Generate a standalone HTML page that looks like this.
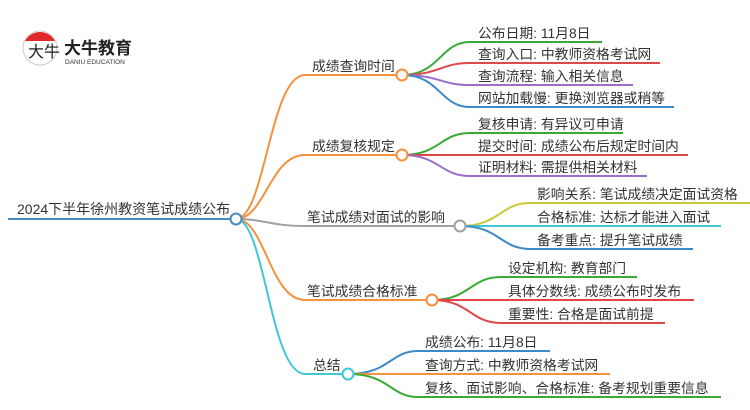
<!DOCTYPE html>
<html><head><meta charset="utf-8"><style>
body{margin:0;background:#fff;}
svg{display:block;}
text{font-family:"Liberation Sans","Noto Sans CJK SC",sans-serif;fill:#333;font-size:13.8px;}
</style></head><body>
<svg width="750" height="410" viewBox="0 0 750 410" xmlns="http://www.w3.org/2000/svg">
<!-- logo -->
<circle cx="40" cy="48" r="17" fill="#fff" stroke="#ccc" stroke-width="1"/>
<path d="M25,41 A17,17 0 0 1 55,41 Z" fill="#e02828"/>
<text x="28" y="57" style="font-size:16px;fill:#222">大牛</text>
<text x="64" y="54" style="font-size:17px;font-weight:bold;fill:#222">大牛教育</text>
<text x="65" y="64" style="font-size:6.5px;fill:#333">DANIU EDUCATION</text>

<g fill="none" stroke-width="2">
<line x1="8" y1="219" x2="231" y2="219" stroke="#4a8ac4"/>
<path d="M236,219 C265,219 270,75 305,75 L397,75" stroke="#f5923e"/>
<path d="M236,219 C265,219 270,155 305,155 L397,155" stroke="#f5923e"/>
<path d="M236,219 C265,219 270,226 305,226 L455,226" stroke="#a0a0a0"/>
<path d="M236,219 C265,219 270,300 305,300 L427,300" stroke="#f5923e"/>
<path d="M236,219 C265,219 270,374 305,374 L343,374" stroke="#3ec8d8"/>
<path d="M402,75 C440,75 440,42 470,42 L602,42" stroke="#3aaa35"/>
<path d="M402,75 C440,75 440,63 470,63 L660,63" stroke="#e04848"/>
<path d="M402,75 C440,75 440,85 470,85 L633,85" stroke="#9b6fc9"/>
<path d="M402,75 C440,75 440,107 470,107 L674,107" stroke="#3d8ac8"/>
<path d="M402,155 C440,155 440,133 470,133 L623,133" stroke="#3aaa35"/>
<path d="M402,155 L688,155" stroke="#e04848"/>
<path d="M402,155 C440,155 440,176 470,176 L647,176" stroke="#9b6fc9"/>
<path d="M460,226 C500,226 500,203 530,203 L750,203" stroke="#c8c83a"/>
<path d="M460,226 L721,226" stroke="#3ec8d8"/>
<path d="M460,226 C500,226 500,249 530,249 L693,249" stroke="#3d8ac8"/>
<path d="M432,300 C470,300 470,277 501,277 L637,277" stroke="#3aaa35"/>
<path d="M432,300 L694,300" stroke="#e04848"/>
<path d="M432,300 C470,300 470,323 501,323 L665,323" stroke="#e04848"/>
<path d="M348,374 C390,374 390,351 418,351 L550,351" stroke="#3d8ac8"/>
<path d="M348,374 L610,374" stroke="#f5923e"/>
<path d="M348,374 C390,374 390,397 418,397 L721,397" stroke="#3aaa35"/>
</g>
<g fill="#fff" stroke-width="2">
<circle cx="236" cy="219" r="5.5" stroke="#4a8ac4"/>
<circle cx="402" cy="75" r="5.5" stroke="#f5923e"/>
<circle cx="402" cy="155" r="5.5" stroke="#f5923e"/>
<circle cx="460" cy="226" r="5.5" stroke="#a0a0a0"/>
<circle cx="432" cy="300" r="5.5" stroke="#f5923e"/>
<circle cx="348" cy="374" r="5.5" stroke="#3ec8d8"/>
</g>
<text x="17" y="214" style="font-size:14px">2024下半年徐州教资笔试成绩公布</text>
<text x="312" y="71">成绩查询时间</text>
<text x="312" y="151">成绩复核规定</text>
<text x="307" y="222">笔试成绩对面试的影响</text>
<text x="307" y="296">笔试成绩合格标准</text>
<text x="313" y="370">总结</text>

<text x="478" y="38">公布日期: 11月8日</text>
<text x="478" y="59">查询入口: 中教师资格考试网</text>
<text x="478" y="81">查询流程: 输入相关信息</text>
<text x="478" y="103">网站加载慢: 更换浏览器或稍等</text>
<text x="478" y="129">复核申请: 有异议可申请</text>
<text x="478" y="151">提交时间: 成绩公布后规定时间内</text>
<text x="478" y="172">证明材料: 需提供相关材料</text>
<text x="537" y="199">影响关系: 笔试成绩决定面试资格</text>
<text x="537" y="222">合格标准: 达标才能进入面试</text>
<text x="537" y="245">备考重点: 提升笔试成绩</text>
<text x="508" y="273">设定机构: 教育部门</text>
<text x="508" y="296">具体分数线: 成绩公布时发布</text>
<text x="508" y="319">重要性: 合格是面试前提</text>
<text x="425" y="347">成绩公布: 11月8日</text>
<text x="425" y="370">查询方式: 中教师资格考试网</text>
<text x="425" y="393">复核、面试影响、合格标准: 备考规划重要信息</text>
</svg>
</body></html>
